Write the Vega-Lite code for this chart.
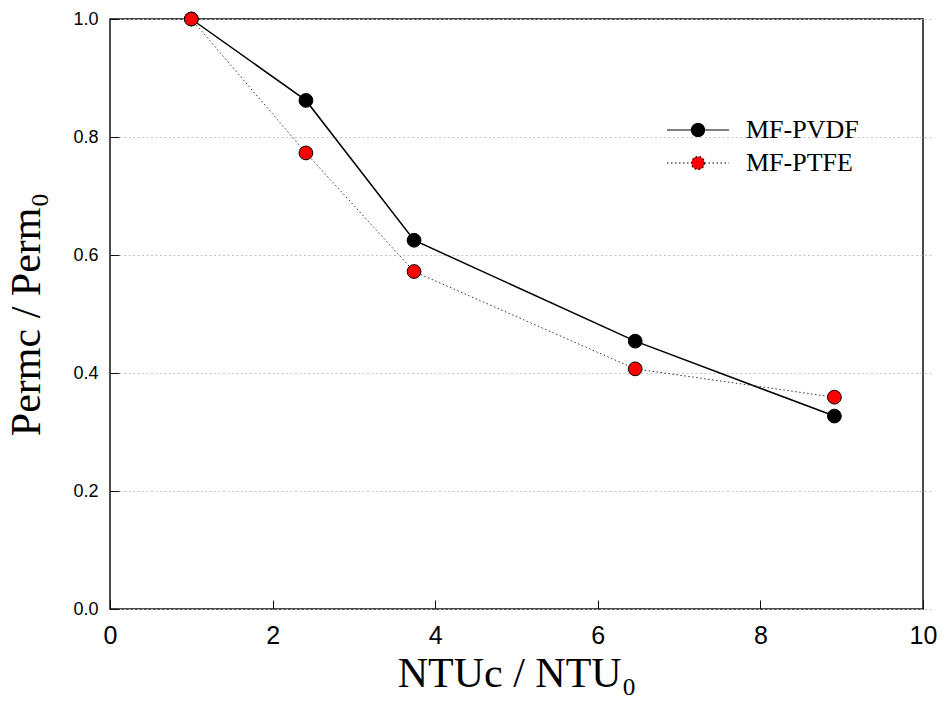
{
  "$schema": "https://vega.github.io/schema/vega-lite/v6.json",
  "autosize": "none",
  "padding": {"left": 110, "top": 19, "right": 21, "bottom": 97},
  "width": 813,
  "height": 590,
  "background": "white",
  "config": {
    "view": {"stroke": "#111", "strokeWidth": 1.5},
    "axis": {
      "domain": false,
      "ticks": true,
      "tickColor": "#111",
      "tickWidth": 1,
      "tickSize": 9,
      "offset": -9,
      "labelColor": "#000",
      "titleColor": "#000",
      "labelFont": "Liberation Sans",
      "titleFont": "Liberation Serif",
      "titleFontWeight": "normal",
      "titleFontSize": 42,
      "labelFlush": false,
      "zindex": 1
    }
  },
  "data": {
    "values": [
      {"series": "MF-PVDF", "ntu": 1.0, "perm": 1.0},
      {"series": "MF-PVDF", "ntu": 2.41, "perm": 0.862},
      {"series": "MF-PVDF", "ntu": 3.74, "perm": 0.625},
      {"series": "MF-PVDF", "ntu": 6.46, "perm": 0.454},
      {"series": "MF-PVDF", "ntu": 8.91, "perm": 0.327},
      {"series": "MF-PTFE", "ntu": 1.0, "perm": 1.0},
      {"series": "MF-PTFE", "ntu": 2.41, "perm": 0.773},
      {"series": "MF-PTFE", "ntu": 3.74, "perm": 0.572},
      {"series": "MF-PTFE", "ntu": 6.46, "perm": 0.407},
      {"series": "MF-PTFE", "ntu": 8.91, "perm": 0.359}
    ]
  },
  "encoding": {
    "x": {
      "field": "ntu", "type": "quantitative",
      "scale": {"domain": [0, 10], "nice": false, "zero": false},
      "axis": {
        "values": [0, 2, 4, 6, 8, 10], "format": "d",
        "labelFontSize": 25, "labelPadding": 14,
        "grid": false, "title": "NTUc / NTU₀", "titlePadding": 5
      }
    },
    "y": {
      "field": "perm", "type": "quantitative",
      "scale": {"domain": [0, 1], "nice": false, "zero": false},
      "axis": {
        "values": [0, 0.2, 0.4, 0.6, 0.8, 1.0], "format": ".1f",
        "labelFontSize": 18, "labelPadding": 12,
        "grid": true, "gridColor": "#c4c4c4", "gridDash": [2, 2.5], "gridWidth": 1,
        "title": "Permc / Perm₀", "titlePadding": 24
      }
    }
  },
  "layer": [
    {
      "mark": {"type": "line", "strokeWidth": 1.5, "color": "#000"},
      "transform": [{"filter": "datum.series === 'MF-PVDF'"}],
      "encoding": {}
    },
    {
      "mark": {"type": "line", "strokeWidth": 1, "color": "#333", "strokeDash": [1.5, 2.5]},
      "transform": [{"filter": "datum.series === 'MF-PTFE'"}],
      "encoding": {}
    },
    {
      "mark": {"type": "point", "filled": true, "shape": "circle", "size": 190, "stroke": "#000", "strokeWidth": 1, "opacity": 1},
      "encoding": {
        "fill": {
          "field": "series", "type": "nominal",
          "sort": ["MF-PVDF", "MF-PTFE"],
          "scale": {"domain": ["MF-PVDF", "MF-PTFE"], "range": ["#000000", "#ff0000"]},
          "legend": {
            "title": null,
            "orient": "none",
            "legendX": 575,
            "legendY": 98,
            "padding": 0,
            "symbolType": "M-3.1,0L-0.65,0M0.65,0L3.1,0M0.65,0A0.65,0.65,0,1,1,-0.65,0A0.65,0.65,0,1,1,0.65,0Z",
            "symbolSize": 400,
            "symbolStrokeColor": "#000",
            "symbolStrokeWidth": 1.2,
            "symbolOpacity": 1,
            "labelFont": "Liberation Serif",
            "labelFontSize": 26,
            "labelColor": "#000",
            "labelOffset": 35,
            "rowPadding": 7,
            "encode": {
              "symbols": {
                "update": {
                  "stroke": {"value": "#000"},
                  "strokeDash": [
                    {"test": "datum.value === 'MF-PTFE'", "value": [1.5, 2.5]},
                    {"value": [1, 0]}
                  ]
                }
              }
            }
          }
        },
        "order": {"field": "series", "sort": "descending"}
      }
    }
  ]
}
